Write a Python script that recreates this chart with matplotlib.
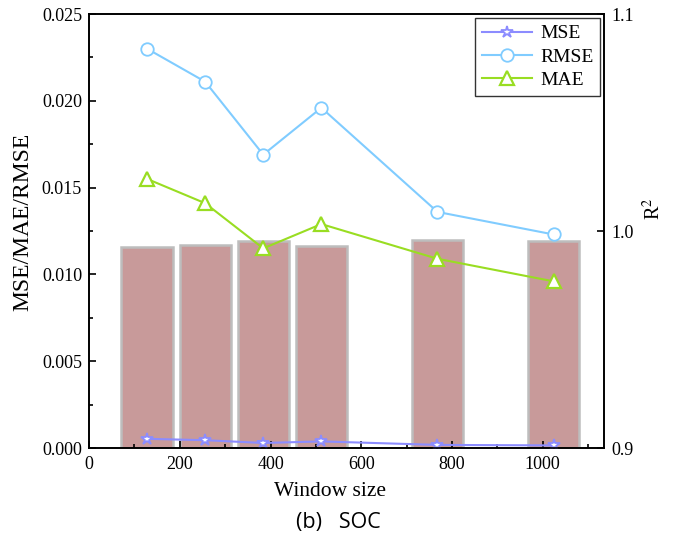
import matplotlib
matplotlib.use("Agg")
import matplotlib.pyplot as plt
from matplotlib.ticker import MultipleLocator

window = [128, 256, 384, 512, 768, 1024]
mse = [0.00053, 0.00045, 0.00029, 0.00038, 0.00018, 0.00015]
rmse = [0.0230, 0.0211, 0.0169, 0.0196, 0.0136, 0.0123]
mae = [0.0155, 0.0141, 0.0115, 0.0129, 0.0109, 0.0096]
r2 = [0.9928, 0.9934, 0.9954, 0.9931, 0.9957, 0.9954]

plt.rcParams['font.family'] = ['Liberation Serif', 'DejaVu Serif']
plt.rcParams['mathtext.fontset'] = 'stix'

fig = plt.figure(figsize=(6.76, 5.39), dpi=100)
ax = fig.add_axes([0.1317, 0.1688, 0.7618, 0.8052])
ax2 = ax.twinx()

# bars on the R2 axis, drawn behind the lines
ax2.bar(window, [v - 0.9 for v in r2], bottom=0.9, width=113,
        color='#C89A9A', edgecolor='#BDBDBD', linewidth=1.8, zorder=1)
ax2.set_ylim(0.9, 1.1)
ax2.set_yticks([0.9, 1.0, 1.1])
ax2.set_ylabel('R$^2$', fontsize=14.5)
ax2.yaxis.set_label_coords(1.076, 0.551)

ax.set_zorder(ax2.get_zorder() + 1)
ax.patch.set_visible(False)

ax.plot(window, mse, '-', color='#8C8CFF', lw=1.5, marker='*', ms=9,
        mfc='white', mec='#8C8CFF', mew=1.3, label='MSE')
ax.plot(window, rmse, '-', color='#80CCFF', lw=1.5, marker='o', ms=9,
        mfc='white', mec='#80CCFF', mew=1.3, label='RMSE')
ax.plot(window, mae, '-', color='#99DD22', lw=1.5, marker='^', ms=10,
        mfc='white', mec='#99DD22', mew=1.6, label='MAE')

ax.set_xlim(0, 1135)
ax.set_ylim(0, 0.025)
ax.xaxis.set_major_locator(MultipleLocator(200))
ax.xaxis.set_minor_locator(MultipleLocator(100))
ax.yaxis.set_major_locator(MultipleLocator(0.005))
ax.yaxis.set_minor_locator(MultipleLocator(0.0025))
ax.set_yticklabels([f'{v:.3f}' for v in ax.get_yticks()])

for a in (ax, ax2):
    a.tick_params(which='both', direction='in', labelsize=13, width=1.2, pad=5)
    a.tick_params(which='major', length=5)
    a.tick_params(which='minor', length=3)
    for s in a.spines.values():
        s.set_linewidth(1.2)
ax.tick_params(axis='x', which='both', top=False, pad=6)
ax.tick_params(axis='y', which='both', right=False)

ax.set_xlabel('Window size', fontsize=15.5, va='top')
ax.xaxis.set_label_coords(0.468, -0.078)
ax.set_ylabel('MSE/MAE/RMSE', fontsize=17)
ax.yaxis.set_label_coords(-0.109, 0.522)

leg = ax.legend(loc='upper right', fontsize=14, frameon=True, fancybox=False,
                edgecolor='black', handlelength=2.6, borderpad=0.35,
                labelspacing=0.3, handletextpad=0.4, borderaxespad=0.2)
leg.get_frame().set_linewidth(1.0)

fig.text(0.5, 0.0315, '(b)   SOC', fontsize=15.5, family=['Open Sans', 'DejaVu Sans'],
         ha='center', va='center')

fig.savefig('out.png', dpi=100)
